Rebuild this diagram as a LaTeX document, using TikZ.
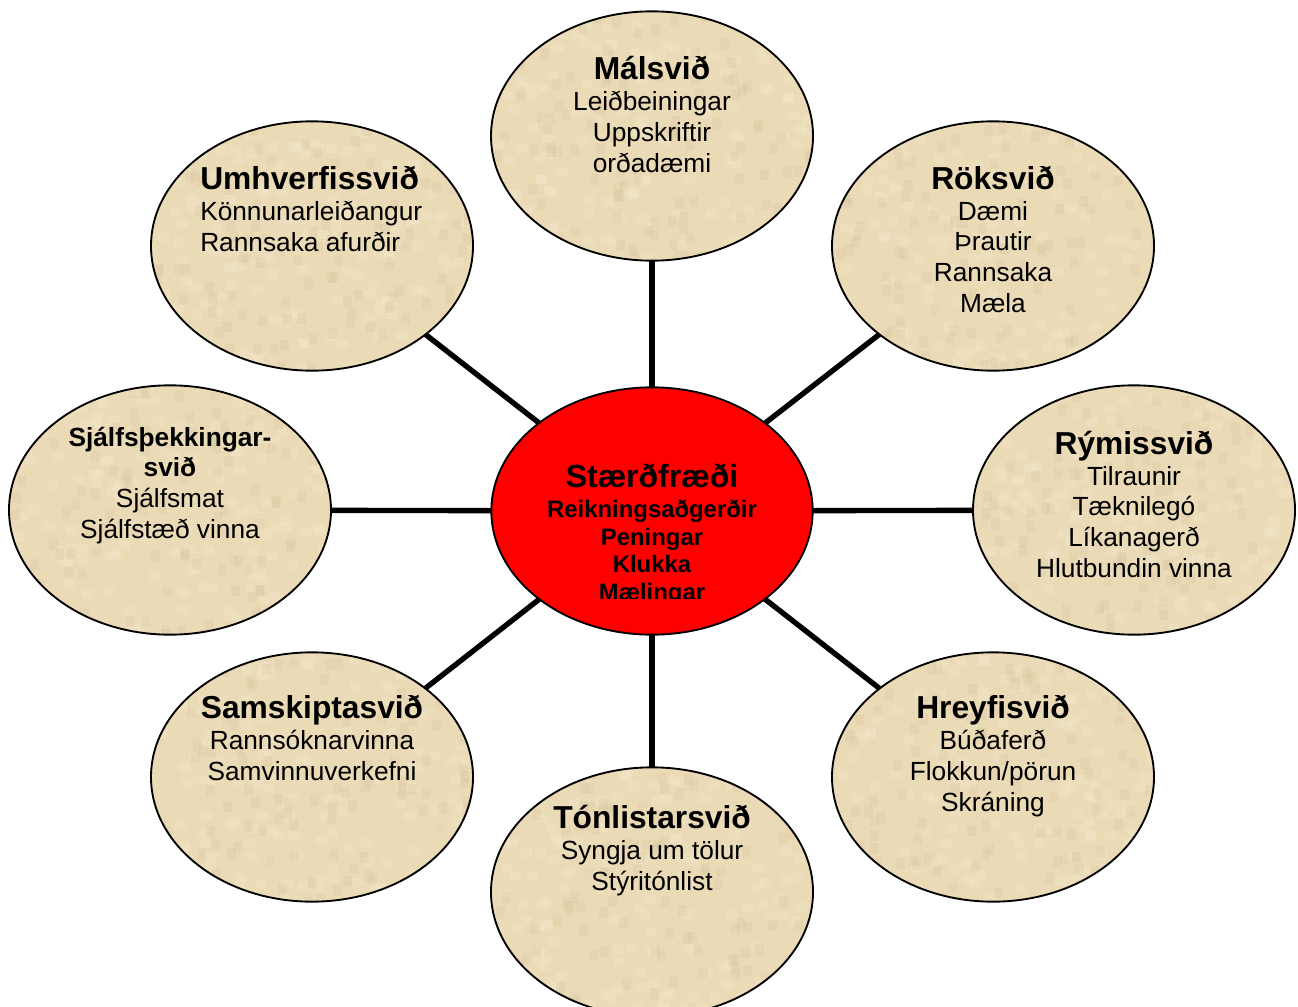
\documentclass[tikz,border=0pt]{standalone}
\usepackage{fontspec}
\setmainfont{Liberation Sans}
\usetikzlibrary{shapes.geometric,backgrounds}
\definecolor{parchment}{RGB}{234,218,182}
\definecolor{parchlight}{RGB}{244,232,203}
\definecolor{parchdark}{RGB}{217,197,158}
\newcommand\fieldtitle{\bfseries\fontsize{23.8}{22.9}\selectfont}
\newcommand\hubtitle{\fontsize{24}{20.6}\selectfont}
\tikzset{
  field/.style={ellipse, draw, line width=1.4pt, fill=parchment,
    minimum width=241.5pt, minimum height=187pt, inner sep=0pt,
    path picture={
      \foreach \i in {1,...,160}
        \fill[parchlight, opacity=.35]
          ([shift={(rnd*330,rnd*260)}]path picture bounding box.north west) rectangle ++(11,9);
      \foreach \i in {1,...,120}
        \fill[parchdark, opacity=.28]
          ([shift={(rnd*330,rnd*260)}]path picture bounding box.north west) rectangle ++(9,11);
    }},
  hub/.style={ellipse, draw, line width=1.4pt, fill=red,
    minimum width=241pt, minimum height=185.5pt, inner sep=0pt},
  spoke/.style={line width=4pt},
  fieldtext/.style={anchor=base, align=center, inner sep=0pt,
    font=\fontsize{19.7}{22.9}\selectfont},
  hubtext/.style={anchor=base, align=center, inner sep=0pt,
    font=\bfseries\fontsize{17.9}{20.6}\selectfont}
}
\begin{document}
\begin{tikzpicture}[x=0.75pt,y=-0.75pt]
    \useasboundingbox (0,0) rectangle (1298,1006);
    \pgfmathsetseed{7}
    %% fields
    \node[field] (mal) at (652,136) {};
    \node[field] (umh) at (312,246) {};
    \node[field] (rok) at (993,246) {};
    \node[field] (sja) at (170,510) {};
    \node[field] (rym) at (1134,510) {};
    \node[field] (sam) at (312,777) {};
    \node[field] (hre) at (993,777) {};
    \node[field] (ton) at (652,892) {};
    \node[hub] (stae) at (652,511) {};
    %% spokes
    \begin{pgfonlayer}{background}
        \foreach \f in {mal,umh,rok,sja,rym,sam,hre,ton}
            \draw[spoke] (stae.center) -- (\f.center);
    \end{pgfonlayer}
    %% labels (placed by the baseline of their last line)
    \node[fieldtext] (maltxt) at (652,172)
        {{\fieldtitle Málsvið}\\[0.5pt] Leiðbeiningar\\ Uppskriftir\\ orðadæmi};
    \node[fieldtext, anchor=base west, align=left] (umhtxt) at (200,251)
        {{\fieldtitle Umhverfissvið}\\[0.5pt] Könnunarleiðangur\\ Rannsaka afurðir};
    \node[fieldtext] (roktxt) at (993,312)
        {{\fieldtitle Röksvið}\\[0.5pt] Dæmi\\ Þrautir\\ Rannsaka\\ Mæla};
    \node[fieldtext] (sjatxt) at (170,538)
        {{\bfseries Sjálfsþekkingar-}\\ {\bfseries svið}\\ Sjálfsmat\\ Sjálfstæð vinna};
    \node[fieldtext] (rymtxt) at (1134,577)
        {{\fieldtitle Rýmissvið}\\[0.5pt] Tilraunir\\ Tæknilegó\\ Líkanagerð\\ Hlutbundin vinna};
    \node[fieldtext] (samtxt) at (312,780)
        {{\fieldtitle Samskiptasvið}\\[0.5pt] Rannsóknarvinna\\ Samvinnuverkefni};
    \node[fieldtext] (hretxt) at (993,811)
        {{\fieldtitle Hreyfisvið}\\[0.5pt] Búðaferð\\ Flokkun/pörun\\ Skráning};
    \node[fieldtext] (tontxt) at (652,890)
        {{\fieldtitle Tónlistarsvið}\\[0.5pt] Syngja um tölur\\ Stýritónlist};
    %% hub text, cut off at the bottom
    \begin{scope}
        \clip (492,380) rectangle (813,598);
        \node[hubtext] (staetxt) at (652,600)
            {{\hubtitle Stærðfræði}\\[1.9pt] Reikningsaðgerðir\\ Peningar\\ Klukka\\ Mælingar};
    \end{scope}
\end{tikzpicture}
\end{document}
